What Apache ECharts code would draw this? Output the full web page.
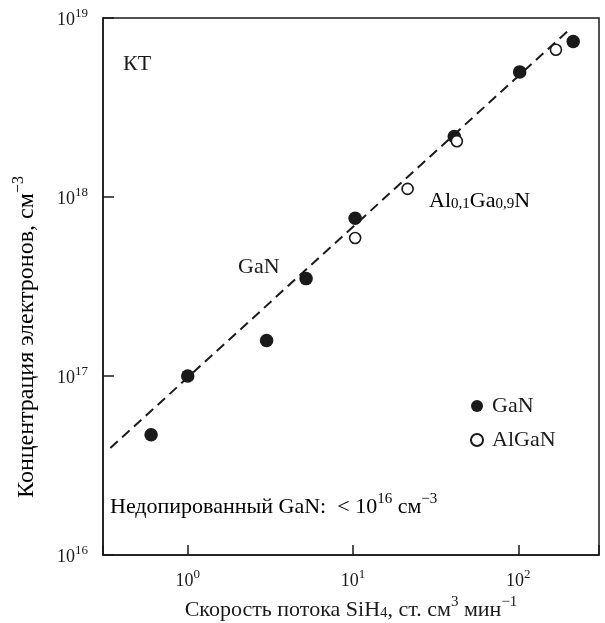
<!DOCTYPE html>
<html>
<head>
<meta charset="utf-8">
<script src="https://cdn.jsdelivr.net/npm/echarts@6/dist/echarts.min.js"></script>
<style>
  html, body { margin: 0; padding: 0; background: #fff; }
  #chart { width: 605px; height: 623px; }
</style>
</head>
<body>
<div id="chart"></div>
<script>
  // значения
  var ganFlow = [0.6, 1.0, 3.0, 5.2, 10.3, 41, 102, 215];
  var ganConc = [4.7e16, 1.0e17, 1.58e17, 3.5e17, 7.6e17, 2.18e18, 5.0e18, 7.4e18];
  var alganFlow = [10.3, 21.4, 42.5, 169];
  var alganConc = [5.9e17, 1.11e18, 2.05e18, 6.65e18];
  var fitFlow = [0.34, 206];
  var fitConc = [3.96e16, 8.7e18];
  var xRange = [0.307, 308];
  var yRange = [1e16, 1e19];

  var ink = '#1a1a1a';
  var serif = 'Liberation Serif';
  // подписи делений
  var tickRich = {
    b: { fontSize: 18, lineHeight: 22, verticalAlign: 'bottom', fontFamily: serif, color: ink },
    sup: { fontSize: 13, lineHeight: 13, verticalAlign: 'top', fontFamily: serif, color: ink }
  };
  // крупный текст
  function bigRich(size) {
    var s = Math.round(size * 0.68);
    return {
      b: { fontSize: size, lineHeight: size + 4, verticalAlign: 'bottom', fontFamily: serif, color: ink },
      sup: { fontSize: s, lineHeight: s, verticalAlign: 'top', fontFamily: serif, color: ink },
      sub: { fontSize: s, lineHeight: s, verticalAlign: 'bottom', fontFamily: serif, color: ink }
    };
  }
  var textRich = bigRich(22);

  function zip(a, b) {
    return a.map(function (v, i) { return [v, b[i]]; });
  }
  function powLabel(v) {
    var e = Math.log10(v);
    if (Math.abs(e - Math.round(e)) > 1e-6) return '';
    return '{b|10}{sup|' + Math.round(e) + '}';
  }

  var myChart = echarts.init(document.getElementById('chart'));
  var option = {
    animation: false,
    grid: {
      left: 103, top: 18, right: 6, bottom: 68,
      show: true, borderColor: ink, borderWidth: 1.5,
      outerBoundsMode: 'none'
    },
    xAxis: {
      type: 'log', logBase: 10, min: xRange[0], max: xRange[1],
      axisLine: { lineStyle: { color: ink, width: 1.5 } },
      axisTick: { inside: true, length: 10, lineStyle: { color: ink, width: 1.5 } },
      splitLine: { show: false },
      minorTick: { show: false },
      axisLabel: { margin: 13, formatter: powLabel, rich: tickRich },
      name: '{b|Скорость потока SiH}{sub|4}{b|, ст. см}{sup|3}{b| мин}{sup|−1}',
      nameLocation: 'middle', nameGap: 37,
      nameTextStyle: { rich: textRich }
    },
    yAxis: {
      type: 'log', logBase: 10, min: yRange[0], max: yRange[1],
      axisLine: { lineStyle: { color: ink, width: 1.5 } },
      axisTick: { inside: true, length: 11, lineStyle: { color: ink, width: 1.5 } },
      splitLine: { show: false },
      minorTick: { show: false },
      axisLabel: { margin: 15, formatter: powLabel, rich: tickRich }
    },
    legend: {
      orient: 'vertical', left: 470, top: 395, padding: 0,
      itemWidth: 12, itemHeight: 12, itemGap: 12,
      icon: 'circle',
      data: ['GaN', 'AlGaN'],
      textStyle: { fontFamily: serif, fontSize: 22, color: ink, padding: [0, 0, 0, 4] }
    },
    graphic: [
      { type: 'text', x: 123, y: 64,
        style: { text: 'КТ', fontFamily: serif, fontSize: 22, fill: ink, verticalAlign: 'middle' } },
      { type: 'text', x: 238, y: 267,
        style: { text: 'GaN', fontFamily: serif, fontSize: 22, fill: ink, verticalAlign: 'middle' } },
      { type: 'text', x: 429, y: 199,
        style: { text: '{b|Al}{sub|0,1}{b|Ga}{sub|0,9}{b|N}', rich: textRich, verticalAlign: 'middle' } },
      { type: 'text', x: 110, y: 505,
        style: { text: '{b|Недопированный GaN:  < 10}{sup|16}{b| см}{sup|−3}', rich: textRich, verticalAlign: 'middle' } },
      { type: 'text', x: 25, y: 337, rotation: Math.PI / 2,
        style: { text: '{b|Концентрация электронов, см}{sup|−3}', rich: bigRich(24), align: 'center', verticalAlign: 'middle' } }
    ],
    series: [
      {
        name: 'fit', type: 'line', data: zip(fitFlow, fitConc),
        showSymbol: false, silent: true, z: 1,
        lineStyle: { color: ink, width: 2, type: [10, 6] }
      },
      {
        name: 'GaN', type: 'scatter', data: zip(ganFlow, ganConc),
        symbol: 'circle', symbolSize: 13.5, z: 2,
        itemStyle: { color: ink, opacity: 1 }
      },
      {
        name: 'AlGaN', type: 'scatter', data: zip(alganFlow, alganConc),
        symbol: 'circle', symbolSize: 11, z: 3,
        itemStyle: { color: '#fff', borderColor: ink, borderWidth: 1.6, opacity: 1 }
      }
    ]
  };
  myChart.setOption(option);
</script>
</body>
</html>
